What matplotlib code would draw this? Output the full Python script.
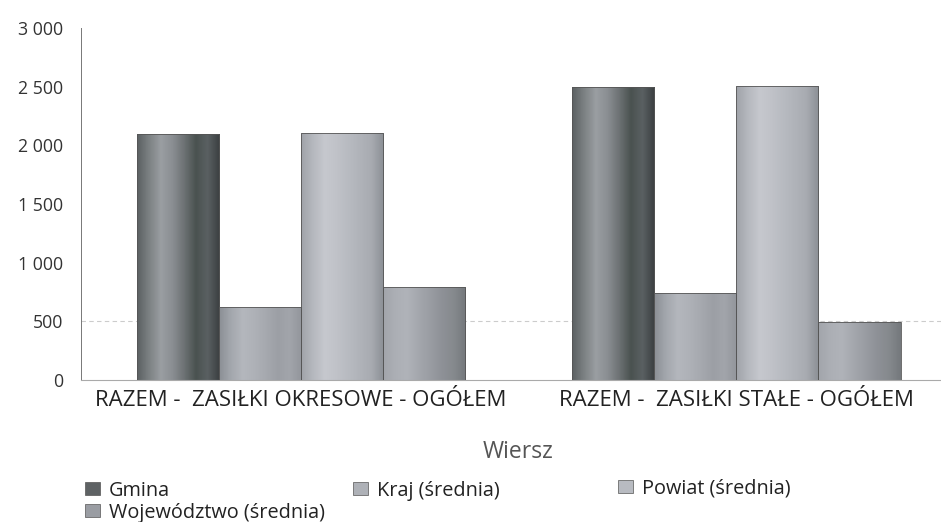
import matplotlib
matplotlib.use("Agg")
import matplotlib.pyplot as plt
import numpy as np
from matplotlib.colors import LinearSegmentedColormap
from matplotlib.patches import Patch

categories = ["RAZEM -  ZASIŁKI OKRESOWE - OGÓŁEM", "RAZEM -  ZASIŁKI STAŁE - OGÓŁEM"]
series = ["Gmina", "Kraj (średnia)", "Powiat (średnia)", "Województwo (średnia)"]
gmina = [2100, 2500]
kraj = [620, 740]
powiat = [2105, 2510]
wojewodztwo = [790, 495]
values = [gmina, kraj, powiat, wojewodztwo]
yticks = [0, 500, 1000, 1500, 2000, 2500, 3000]
ytick_labels = ["0", "500", "1 000", "1 500", "2 000", "2 500", "3 000"]

# horizontal shading profiles (left -> right) for the cylindrical look
shades = [
    ["#5c6163", "#7d8284", "#9a9ea2", "#8a8e92", "#6d7274", "#4a5250", "#5a6062", "#3c4042"],
    ["#8c9096", "#a4a8ae", "#b4b7bd", "#aeb1b7", "#a6a9af", "#9c9fa5", "#a2a5ab", "#93969c"],
    ["#a0a3a9", "#b6b9bf", "#c6c8ce", "#c0c2c8", "#b8bbc1", "#b0b3b9", "#a8abb1", "#8c9096"],
    ["#a2a5ab", "#acafb5", "#b0b3b9", "#a4a7ad", "#9a9da3", "#8e9197", "#868a8e", "#75797d"],
]
legend_colors = ["#5e6264", "#aeb1b7", "#b8bbc1", "#9a9da3"]

plt.rcParams['font.family'] = ['Open Sans', 'DejaVu Sans']
fig = plt.figure(figsize=(9.41, 5.22), dpi=100)
ax = fig.add_axes([0.086, 0.272, 0.914, 0.674])

x = np.arange(len(categories))
w = 0.1885
offsets = (np.arange(len(series)) - 1.5) * w
for i, vals in enumerate(values):
    cmap = LinearSegmentedColormap.from_list(f"s{i}", shades[i])
    bars = ax.bar(x + offsets[i], vals, width=w, color="none", edgecolor="#555555", linewidth=0.6, zorder=3)
    for b in bars:
        grad = np.linspace(0, 1, 64).reshape(1, -1)
        im = ax.imshow(grad, cmap=cmap, aspect="auto", zorder=2,
                       extent=[b.get_x(), b.get_x() + b.get_width(), 0, b.get_height()])
        im.set_clip_path(b)

ax.set_xlim(-0.506, 1.47)
ax.set_ylim(0, 3000)
ax.set_yticks(yticks)
ax.set_yticklabels(ytick_labels, fontsize=12.8, color="#333333")
ax.set_xticks(x)
ax.set_xticklabels(categories, fontsize=16, color="#222222")
ax.tick_params(axis="both", length=0)
ax.tick_params(axis="y", pad=13)
ax.tick_params(axis="x", pad=7)
ax.axhline(500, color="#cccccc", linewidth=0.8, linestyle=(0, (4, 3)), zorder=1)
for s in ["top", "right"]:
    ax.spines[s].set_visible(False)
ax.spines["left"].set_color("#777777")
ax.spines["left"].set_linewidth(0.7)
ax.spines["bottom"].set_color("#aaaaaa")
ax.spines["bottom"].set_linewidth(0.8)
ax.set_xlabel("Wiersz", fontsize=16.5, color="#555555")
ax.xaxis.set_label_coords(0.508, -0.17)

handles = [Patch(facecolor=legend_colors[i], edgecolor="#555555", linewidth=0.5) for i in range(4)]
kw = dict(frameon=False, fontsize=14.3, handlelength=0.75, handleheight=0.65, handletextpad=0.45,
          labelspacing=0.1, borderaxespad=0, borderpad=0, labelcolor="#222222")
leg1 = fig.legend([handles[0], handles[3]], [series[0], series[3]], loc="upper left",
                  bbox_to_anchor=(0.09, 0.079), **kw)
leg2 = fig.legend([handles[1]], [series[1]], loc="upper left",
                  bbox_to_anchor=(0.375, 0.079), **kw)
leg3 = fig.legend([handles[2]], [series[2]], loc="upper left",
                  bbox_to_anchor=(0.657, 0.083), **kw)

fig.savefig("out.png", dpi=100)
